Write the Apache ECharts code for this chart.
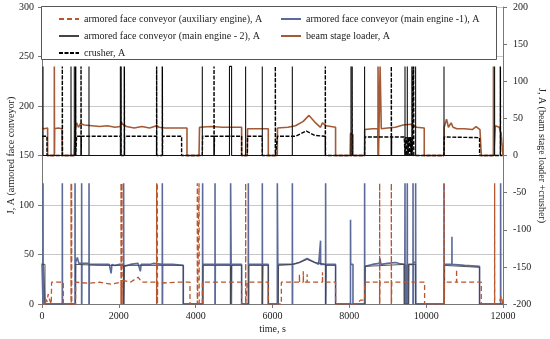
<!DOCTYPE html>
<html><head><meta charset="utf-8">
<script src="https://cdn.jsdelivr.net/npm/echarts@6/dist/echarts.min.js"></script>
<style>html,body{margin:0;padding:0;background:#fff}#c{width:550px;height:339px}</style>
</head><body><div id="c"></div>
<script>
// ---- data: [time s, current A] ----
const xTicks = [0, 2000, 4000, 6000, 8000, 10000, 12000];
const leftTicks = [0, 50, 100, 150, 200, 250, 300];
const rightTicks = [-200, -150, -100, -50, 0, 50, 100, 150, 200];

const auxEngine = [
[0,0],[80,0],[100,5],[130,2],[160,10],[200,4],[242,0],[250,22],[554,22],[554,0],
[755,0],[756,122],[760,0],[770,0],[771,122],[775,0],
[875,0],[876,22],[1200,21],[1500,22],[1800,20],[2056,22],[2056,0],[2057,122],[2061,0],[2080,0],[2081,122],[2085,0],
[2090,24],[2300,22],[2500,27],[2600,22],[2983,22],[2983,0],[2984,122],[2988,0],[3000,0],[3001,122],[3005,0],
[3010,21],[3500,22],[3852,22],[3852,0],
[4042,0],[4043,122],[4047,0],[4087,0],[4088,122],[4092,0],
[4173,0],[4174,22],[4600,22],[5196,22],[5196,0],
[5300,0],[5301,122],[5305,0],[5344,0],[5345,22],[5891,22],[5891,0],
[6230,0],[6231,22],[6700,22],[6701,30],[6705,22],[6800,22],[6801,33],[6806,22],[6900,22],[6901,30],[6905,22],
[7300,22],[7301,32],[7305,22],[7642,22],[7642,0],
[8160,0],[8300,4],[8397,4],[8400,22],[8788,22],[8788,0],[8789,122],[8793,0],[8800,22],
[9092,22],[9092,0],[9093,122],[9097,0],[9105,22],[9959,22],[9959,0],
[10464,0],[10465,122],[10469,0],[10475,22],[10790,22],[10791,35],[10795,22],[11435,22],[11435,0],
[11781,0],[11782,122],[11786,0],[11900,0],[11950,8],[12000,0]
];

const mainEngine1 = [
[0,41],[26,41],[26,0],[27,122],[30,0],[30,41],[78,41],[78,0],
[528,0],[529,122],[533,0],
[859,0],[860,122],[864,0],[875,42],[920,47],[960,41],
[1031,41],[1031,0],[1032,122],[1036,0],[1040,41],
[1223,41],[1223,0],[1224,122],[1228,0],[1232,40],
[1500,40],[1750,40],[1800,31],[1820,40],[1900,39],[2000,40],
[2124,40],[2124,0],[2125,122],[2130,0],[2140,38],[2300,40],[2500,41],[2560,33],[2580,40],[2800,40],[2900,41],
[3131,40],[3131,0],[3132,122],[3137,0],[3140,40],[3400,40],[3678,39],[3678,0],
[4180,0],[4181,122],[4185,0],[4190,40],[4300,40],[4503,40],[4503,0],[4504,122],[4508,0],[4512,40],[4700,40],
[4909,40],[4909,0],[4910,122],[4925,122],[4930,0],[4935,40],[5100,40],[5196,40],[5196,0],
[5370,0],[5371,122],[5375,0],[5380,40],[5600,40],[5734,40],[5734,0],[5735,122],[5739,0],[5745,40],[5891,40],[5891,0],
[6125,0],[6126,122],[6140,122],[6145,0],[6150,40],[6400,40],[6516,40],[6516,0],[6517,122],[6521,0],[6525,40],
[6700,42],[6900,46],[7050,43],[7200,40],[7250,40],[7251,64],[7253,40],
[7382,40],[7382,0],[7383,122],[7387,0],[7392,40],[7642,40],[7642,0],
[8030,0],[8031,85],[8035,40],[8095,40],[8095,0],
[8397,0],[8398,122],[8402,0],[8410,38],[8600,40],[8780,41],[8800,46],[8820,40],[9000,41],[9200,42],[9300,41],[9430,40],
[9435,0],[9445,40],[9449,122],[9452,0],[9465,40],[9475,0],[9485,40],[9495,0],[9505,40],[9509,122],[9512,0],[9525,40],[9535,0],[9545,40],
[9657,40],[9657,0],[9658,122],[9662,0],[9668,42],[9725,42],[9725,0],[9726,122],[9730,0],
[10464,0],[10465,122],[10470,0],[10475,40],[10600,40],[10670,40],[10671,68],[10673,40],[11000,39],[11390,38],[11390,0],
[11937,0],[11938,122],[11942,0],[12000,0]
];

const mainEngine2 = [
[0,40],[78,40],[78,0],[875,0],[875,40],[1500,39],[2124,39],[2124,0],[2140,0],[2140,39],[3678,39],[3678,0],
[4190,0],[4190,39],[4909,39],[4909,0],[4935,0],[4935,39],[5196,39],[5196,0],[5380,0],[5380,39],[5734,39],[5734,0],
[5745,0],[5745,39],[5891,39],[5891,0],[6150,0],[6150,39],[6500,40],[6700,42],[6900,45],[7100,42],[7382,40],[7382,0],
[7392,0],[7392,39],[7642,39],[7642,0],[8410,0],[8410,38],[9430,40],[9430,0],[9545,0],[9545,40],[9725,40],[9725,0],
[10475,0],[10475,39],[11390,37],[11390,0],[12000,0]
];

const beamStageLoader = [
[0,37],[60,36],[146,37],[146,0],
[320,0],[321,120],[325,0],[330,36],[420,37],[520,36],[530,0],
[841,0],[860,35],[900,44],[950,38],[1000,43],[1100,41],[1300,40],[1500,39],[1700,40],[1900,38],[2040,39],[2056,46],
[2100,42],[2200,39],[2400,37],[2600,39],[2800,37],[2983,40],[3050,38],[3200,37],[3500,37],[3774,37],[3774,0],
[4087,0],[4100,38],[4400,39],[4700,38],[5196,38],[5196,0],
[5344,0],[5350,36],[5600,36],[5891,36],[5891,0],
[6125,0],[6130,37],[6400,38],[6600,40],[6800,46],[6950,54],[7100,45],[7250,38],[7300,44],[7400,40],[7642,38],[7642,0],
[8020,0],[8030,30],[8095,28],[8095,0],
[8397,0],[8400,35],[8600,36],[8740,36],[8746,0],[8747,120],[8755,120],[8760,0],[8800,0],[8801,120],[8830,120],[8832,36],
[9000,37],[9200,38],[9400,41],[9600,42],[9750,38],[9950,37],[9950,0],
[10464,0],[10470,38],[10530,49],[10580,38],[10650,44],[10700,38],[10800,36],[11000,36],[11200,35],[11300,39],[11400,35],[11435,35],[11435,0],
[11750,0],[11751,120],[11760,0],[11790,0],[11800,40],[11900,38],[11950,30],[12000,0]
];

const crusher = [
[0,26],[50,27],[130,26],[130,0],
[528,0],[529,120],[533,0],
[875,0],[876,120],[880,0],[900,26],[1015,26],[1015,0],[1016,120],[1020,0],[1025,26],[1500,26],
[2056,26],[2056,0],[2057,120],[2061,0],[2142,0],[2143,120],[2147,0],[2150,26],[2500,26],
[2983,26],[2983,0],[2984,120],[2988,0],[3131,0],[3132,120],[3136,0],[3140,26],[3634,26],[3634,0],
[4173,0],[4180,26],[4477,26],[4477,0],[4478,120],[4482,0],[4490,26],[5196,26],[5196,0],
[5344,0],[5350,26],[5734,26],[5734,0],
[6073,0],[6074,120],[6078,0],[6125,0],[6130,26],[6600,26],[6880,33],[7100,27],[7374,26],[7374,0],[7375,120],[7379,0],
[8070,0],[8071,120],[8075,0],
[8397,0],[8400,25],[9092,25],[9092,0],[9093,120],[9097,0],[9100,25],[9430,25],
[9450,0],[9470,25],[9490,0],[9510,25],[9530,0],[9550,25],[9570,0],[9590,25],[9610,0],[9631,25],
[9631,0],[9632,120],[9636,0],[9673,0],[9674,120],[9678,0],
[10464,0],[10470,25],[11390,24],[11390,0],
[11930,0],[11931,120],[11935,0],[12000,0]
];

const crusherSolidSpikes = [
[26,0],[26,120],[27,0],[755,0],[755,120],[756,0],[841,0],[841,120],[842,0],[1223,0],[1223,120],[1224,0],
[2040,0],[2040,120],[2041,0],[4173,0],[4173,120],[4174,0],[4880,0],[4880,120],[4935,120],[4935,0],
[5300,0],[5300,120],[5301,0],[5734,0],[5734,120],[5735,0],[6516,0],[6516,120],[6517,0],
[8043,0],[8043,120],[8044,0],[8397,0],[8397,120],[8398,0],[9449,0],[9449,120],[9450,0],[9509,0],[9509,120],[9510,0],
[9725,0],[9725,120],[9726,0],[10464,0],[10464,120],[10465,0],[11781,0],[11781,120],[11782,0]
];

const FONT = 'Liberation Serif';
const chart = echarts.init(document.getElementById('c'), null, {renderer:'canvas'});
function line(name, data, yi, color, width, type, z){
  return {name, type:'line', data, yAxisIndex:yi, showSymbol:false, symbol:'none', animation:false,
    lineStyle:{color, width, type}, itemStyle:{color}, z};
}
const lbl = v => String(v);
const legendCommon = {top:9, orient:'vertical', itemWidth:20, itemHeight:10, itemGap:7, z:5,
  itemStyle:{opacity:0}, textStyle:{fontFamily:FONT, fontSize:10, color:'#222'}};
chart.setOption({
  animation:false,
  textStyle:{fontFamily:FONT},
  grid:{left:42, right:47, top:7, bottom:35, containLabel:false, outerBoundsMode:'none'},
  xAxis:{type:'value', min:xTicks[0], max:xTicks[xTicks.length-1], interval:2000,
    name:'time, s', nameLocation:'middle', nameGap:20, nameMoveOverlap:false,
    nameTextStyle:{fontFamily:FONT, fontSize:10, color:'#222'},
    axisLine:{lineStyle:{color:'#777'}}, axisTick:{show:true, length:4, lineStyle:{color:'#777'}},
    axisLabel:{fontFamily:FONT, fontSize:10, color:'#222', margin:7, formatter:lbl}, splitLine:{show:false}},
  yAxis:[
    {type:'value', min:leftTicks[0], max:leftTicks[leftTicks.length-1], interval:50, position:'left',
     name:'J, A (armored face conveyor)', nameLocation:'middle', nameGap:26, nameMoveOverlap:false,
     nameTextStyle:{fontFamily:FONT, fontSize:10, color:'#222'},
     axisLine:{show:true, lineStyle:{color:'#777'}}, axisTick:{show:true, length:4, lineStyle:{color:'#777'}},
     axisLabel:{fontFamily:FONT, fontSize:10, color:'#222', margin:8, formatter:lbl},
     splitLine:{show:true, lineStyle:{color:'#c8c8c8', width:1}}},
    {type:'value', min:rightTicks[0], max:rightTicks[rightTicks.length-1], interval:50, position:'right',
     name:'J, A (beam stage loader +crusher)', nameLocation:'middle', nameGap:34, nameRotate:-90, nameMoveOverlap:false,
     nameTextStyle:{fontFamily:FONT, fontSize:10, color:'#222'},
     axisLine:{show:true, lineStyle:{color:'#777'}}, axisTick:{show:true, length:4, lineStyle:{color:'#777'}},
     axisLabel:{fontFamily:FONT, fontSize:10, color:'#222', margin:10, formatter:lbl},
     splitLine:{show:false}}
  ],
  graphic:{elements:[{type:'rect', z:3, shape:{x:41.5, y:6.5, width:455, height:53},
     style:{fill:'#fff', stroke:'#555', lineWidth:1}}]},
  legend:[
    Object.assign({left:53, data:['armored face conveyor (auxiliary engine), A','armored face conveyor (main engine - 2), A','crusher, A']}, legendCommon),
    Object.assign({left:275, data:['armored face conveyor (main engine -1), A','beam stage loader, A']}, legendCommon)
  ],
  series:[
    line('armored face conveyor (main engine -1), A', mainEngine1, 0, '#5b6a9a', 1.6, 'solid', 2),
    line('armored face conveyor (main engine - 2), A', mainEngine2, 0, '#444444', 0.9, 'solid', 2),
    line('armored face conveyor (auxiliary engine), A', auxEngine, 0, '#b8562e', 1.3, [5,3], 2),
    line('beam stage loader, A', beamStageLoader, 1, '#a35a35', 1.6, 'solid', 2),
    line('crusher, A', crusher, 1, '#000000', 1.4, [4,1.5], 2),
    line('crusher spikes', crusherSolidSpikes, 1, '#111111', 1.1, 'solid', 2)
  ]
});
</script></body></html>
